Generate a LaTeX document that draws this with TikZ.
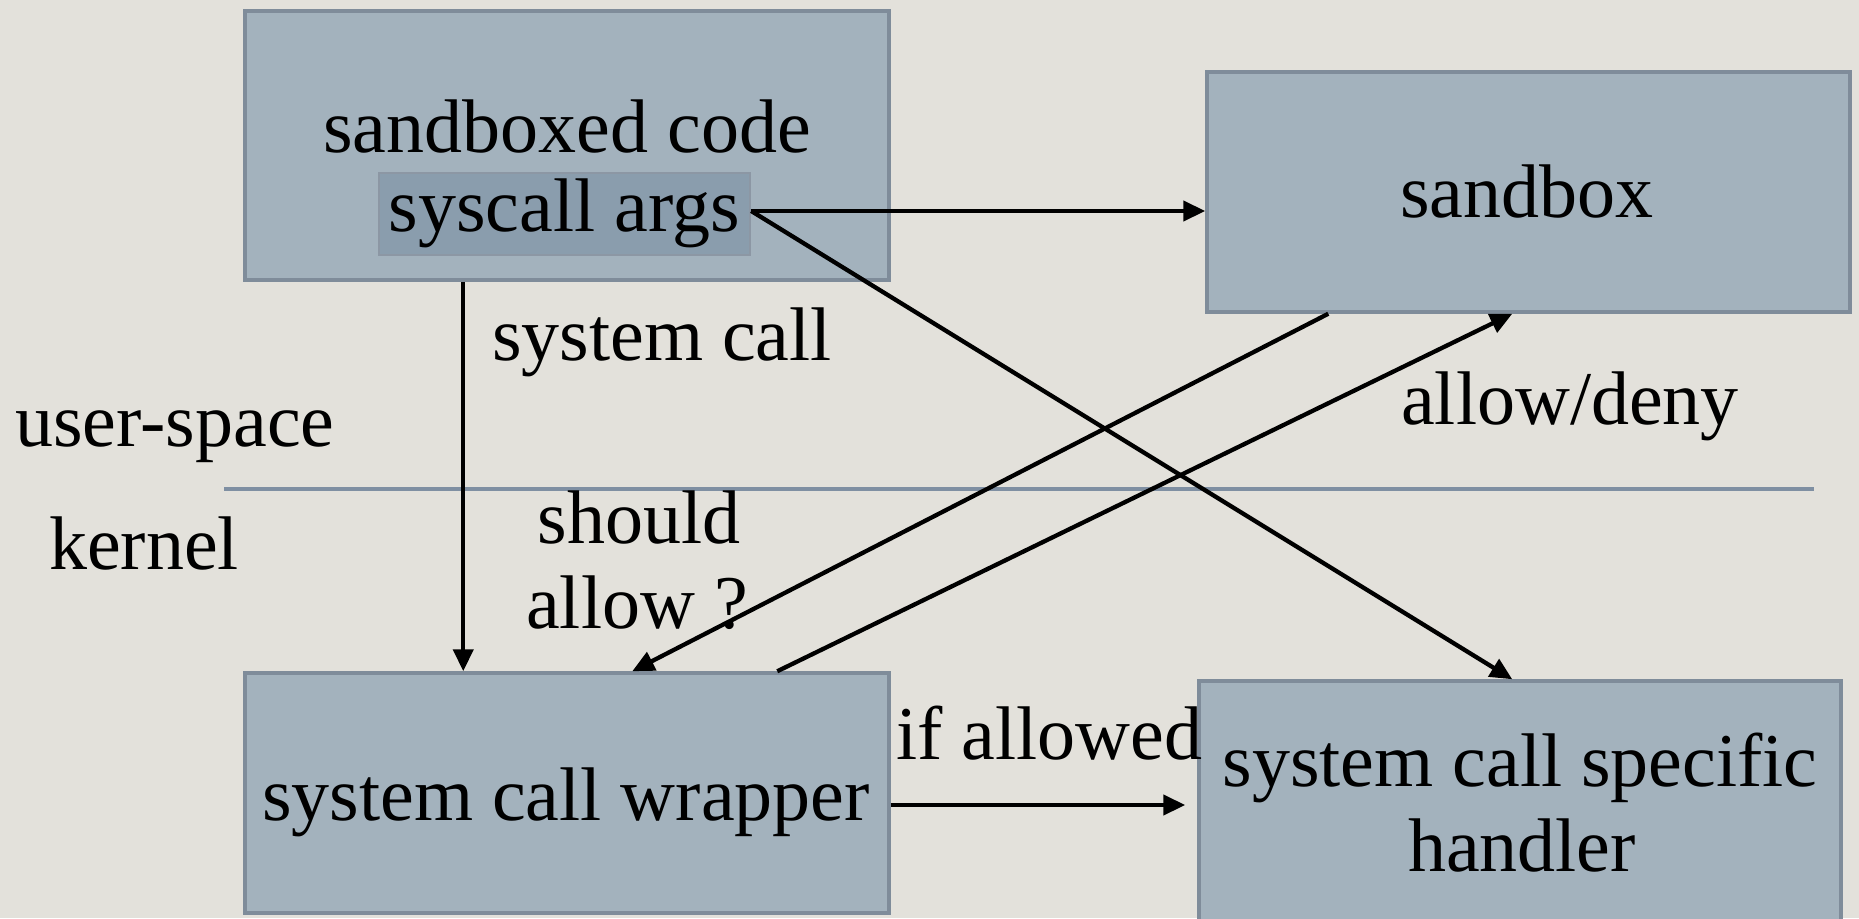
\documentclass[tikz,border=0pt]{standalone}
\usepackage{fontspec}
\setmainfont{Liberation Serif}
\usetikzlibrary{arrows.meta,calc}
\definecolor{bgc}{HTML}{E3E1DB}
\definecolor{boxfill}{HTML}{A3B2BD}
\definecolor{boxline}{HTML}{7F8C9A}
\definecolor{argfill}{HTML}{8A9DAD}
\definecolor{sepline}{HTML}{7F8FA2}
\begin{document}
\begin{tikzpicture}[x=1pt,y=-1pt,
  bigbox/.style={draw=boxline,line width=3.5pt,fill=boxfill,inner sep=0pt},
  argbox/.style={draw=boxline!90!white,line width=2.5pt,fill=argfill,inner sep=0pt},
  txt/.style={font=\fontsize{76}{82}\selectfont,inner sep=0pt,anchor=base},
  conn/.style={line width=4.3pt,-{Triangle[length=22pt,width=20pt]}}]
\fill[bgc] (0,0) rectangle (1859,918);
\useasboundingbox (0,0) rectangle (1859,918);
% boxes
\node[bigbox,minimum width=644pt,minimum height=269pt] (code) at (567,145.5) {};
\node[argbox,minimum width=371pt,minimum height=82pt] (args) at (564.5,214) {};
\node[bigbox,minimum width=643pt,minimum height=240pt] (sandbox) at (1528.5,192) {};
\node[bigbox,minimum width=644pt,minimum height=240pt] (wrapper) at (567,793) {};
\node[bigbox,minimum width=642pt,minimum height=240pt] (handler) at (1520,801) {};
% separator
\coordinate (sepL) at (224,489);
\coordinate (sepR) at (1814,489);
\draw[sepline,line width=4pt] (sepL) -- (sepR);
% texts
\node[txt] (tcode) at (567,152) {sandboxed code};
\node[txt] (targs) at (564,231) {syscall args};
\node[txt] (tsandbox) at (1527,217) {sandbox};
\node[txt] (tsyscall) at (662,360) {system call};
\node[txt] (tuser) at (175,446) {user-space};
\node[txt] (tkernel) at (144,569) {kernel};
\node[txt] (tshould) at (639,543) {should};
\node[txt] (tallowq) at (637,628) {allow ?};
\node[txt] (tallowdeny) at (1570,424) {allow/deny};
\node[txt] (tifallowed) at (1049,759) {if allowed};
\node[txt] (twrapper) at (566,820) {system call wrapper};
\node[txt] (thandler1) at (1520,786) {system call specific};
\node[txt] (thandler2) at (1522,871) {handler};
% connectors
\coordinate (aStart) at ($(args.east)+(0,-3)$);
\draw[conn] (aStart) -- (aStart -| sandbox.west);
\draw[conn] (aStart) -- ($(handler.north west)+(315,0)$);
\draw[conn] ($(code.south west)+(220,0)$) -- ($(wrapper.north west)+(220,0)$);
\draw[conn] ($(sandbox.south west)+(123,0)$) -- ($(wrapper.north west)+(389,0)$);
\draw[conn] ($(wrapper.north west)+(534,0)$) -- ($(sandbox.south west)+(307,0)$);
\coordinate (ifStart) at ($(wrapper.east)+(0,12)$);
\draw[conn,shorten >=12pt] (ifStart) -- (ifStart -| handler.west);
\end{tikzpicture}
\end{document}
